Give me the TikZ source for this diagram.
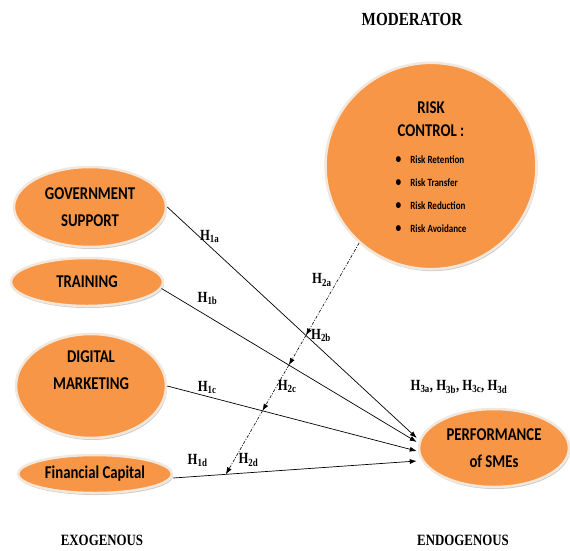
\documentclass[tikz,border=0pt]{standalone}
\usepackage{fontspec}
\setmainfont{Liberation Serif}[FakeStretch=0.82]
\newfontfamily\ovalfont{Carlito}[FakeStretch=0.82]
\usetikzlibrary{arrows.meta,positioning,calc,shapes.geometric,shadows}

\definecolor{ovalfill}{HTML}{F79646}
\definecolor{ovalrim}{HTML}{F3E7DC}

\tikzset{
  oval/.style={ellipse, fill=ovalfill, draw=ovalrim, line width=2.5pt,
    inner sep=0pt, align=center,
    font=\ovalfont\bfseries\fontsize{18}{27}\selectfont,
    drop shadow={shadow xshift=1pt, shadow yshift=-2pt, fill=black!40, opacity=.5}},
  hyp/.style={inner sep=1pt, font=\bfseries\fontsize{15.5}{17}\selectfont},
  side/.style={font=\bfseries\fontsize{15.7}{18}\selectfont},
  link/.style={-{Latex[length=7pt,width=5pt]}, line width=0.7pt},
  modlink/.style={-{Latex[length=7pt,width=5pt]}, line width=0.6pt,
    dash pattern=on 3pt off 1.5pt on 1pt off 1.5pt},
}

\begin{document}
\begin{tikzpicture}[x=1pt, y=-1pt]
  \useasboundingbox (0,0) rectangle (570,550);

  % constructs
  \node[oval, minimum width=152pt, minimum height=80pt] (gov) at (90,207) {GOVERNMENT\\SUPPORT};
  \node[oval, minimum width=152pt, minimum height=48pt] (trn) at (87,282) {TRAINING};
  \node[oval, minimum width=150pt, minimum height=104pt, text depth=31pt] (dig) at (91,386) {DIGITAL\\MARKETING};
  \node[oval, minimum width=154pt, minimum height=38pt] (fin) at (95,474) {Financial Capital};
  \node[oval, minimum width=150pt, minimum height=78pt] (perf) at (494,448) {PERFORMANCE\\of SMEs};
  \node[oval, minimum width=211pt, minimum height=194pt] (risk) at (431,166)
    {\rule{0pt}{20pt}RISK\\[-4pt]CONTROL :\\
     {\fontsize{11}{23}\selectfont
      \begin{tabular}[t]{@{}l@{\hspace{9pt}}l@{}}
        {\fontsize{14}{14}\selectfont\textbullet} & Risk Retention\\
        {\fontsize{14}{14}\selectfont\textbullet} & Risk Transfer\\
        {\fontsize{14}{14}\selectfont\textbullet} & Risk Reduction\\
        {\fontsize{14}{14}\selectfont\textbullet} & Risk Avoidance
      \end{tabular}}};

  % headings
  \node[side, font=\bfseries\fontsize{18.5}{20}\selectfont] (mod) at (412,19) {MODERATOR};
  \node[side] (exo) at (102,540) {EXOGENOUS};
  \node[side] (endo) at (463,540) {ENDOGENOUS};

  % direct effects
  \coordinate (ga) at (gov.east);
  \coordinate (tb) at (trn.-5);
  \coordinate (dc) at (dig.east);
  \coordinate (fd) at ($(fin.east)+(0,4)$);
  \coordinate (pa) at ($(perf.west)+(-1,-10)$);
  \coordinate (pb) at ($(perf.west)+(-1,-6)$);
  \coordinate (pc) at ($(perf.west)+(-1,3)$);
  \coordinate (pd) at ($(perf.west)+(-1,13)$);

  \draw[link] (ga) -- node[hyp, pos=0.17, above=2pt] (h1a) {H\textsubscript{1a}} (pa);
  \draw[link] (tb) -- node[hyp, pos=0.18, above=10pt] (h1b) {H\textsubscript{1b}} (pb);
  \draw[link] (dc) -- node[hyp, pos=0.16, above=1pt] (h1c) {H\textsubscript{1c}} (pc);
  \draw[link] (fd) -- node[hyp, pos=0.1, above=8pt] (h1d) {H\textsubscript{1d}} (pd);

  \node[hyp] (h3) at (459,387) {H\textsubscript{3a}, H\textsubscript{3b}, H\textsubscript{3c}, H\textsubscript{3d}};

  % moderating effects
  \coordinate (mt) at (risk.227);
  \coordinate (md) at ($(fd)!0.216!(pd)$);
  \coordinate (xa) at (intersection of mt--md and ga--pa);
  \coordinate (xb) at (intersection of mt--md and tb--pb);
  \coordinate (xc) at (intersection of mt--md and dc--pc);

  \draw[modlink] (mt) -- node[hyp, pos=0.4, left=5pt] (h2a) {H\textsubscript{2a}} (xa);
  \draw[modlink] (xa) -- (xb);
  \draw[modlink] (xb) -- node[hyp, pos=0.47, right=0pt] (h2c) {H\textsubscript{2c}} (xc);
  \draw[modlink] (xc) -- node[hyp, pos=0.77, right=3pt] (h2d) {H\textsubscript{2d}} (md);
  \node[hyp, right=4pt of xa] (h2b) {H\textsubscript{2b}};
\end{tikzpicture}
\end{document}
